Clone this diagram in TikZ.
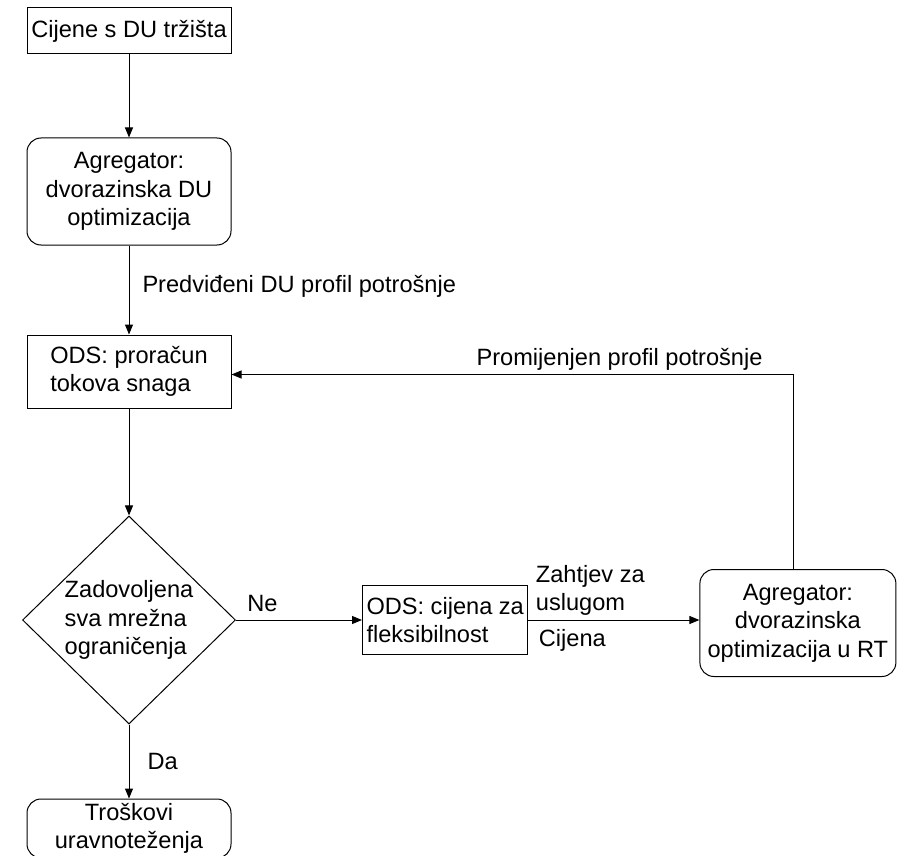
\documentclass[tikz,border=0pt]{standalone}
\usepackage{fontspec}
\setmainfont{Liberation Sans}
\usepackage{tikz}
\usetikzlibrary{arrows.meta,positioning,shapes.geometric}

\begin{document}
\begin{tikzpicture}[
    font=\fontsize{23.6}{28.5}\selectfont,
    line width=1pt,
    box/.style={draw,minimum width=204pt,inner sep=4pt},
    roundbox/.style={box,rounded corners=14pt},
    decision/.style={draw,diamond,aspect=1,inner sep=0pt,
        minimum width=213pt,minimum height=208pt,align=left},
    arrow/.style={-{Triangle[length=10pt,width=8pt]}},
    lbl/.style={inner sep=4pt,align=left}
]
\useasboundingbox (0pt,0pt) rectangle (897pt,-856pt);
\node[box,minimum height=46pt] (prices) at (129pt,-31pt) {Cijene s DU tržišta};
\node[roundbox,minimum height=107pt,align=center,below=83pt of prices] (agg1)
    {Agregator:\\dvorazinska DU\\optimizacija};
\node[box,minimum height=73pt,align=left,below=89pt of agg1] (ods)
    {ODS: proračun\\tokova snaga};
\node[decision,below=107pt of ods] (check)
    {Zadovoljena\\sva mrežna\\ograničenja};
\node[roundbox,minimum height=59pt,align=center,below=74pt of check] (cost)
    {Troškovi\\uravnoteženja};
\node[box,minimum width=164pt,minimum height=69pt,align=left,
    right=126pt of check] (flex) {ODS: cijena za\\fleksibilnost};
\node[roundbox,minimum width=196pt,minimum height=107pt,align=center,
    right=171pt of flex,yshift=-3pt] (agg2)
    {Agregator:\\dvorazinska\\optimizacija u RT};
\draw[arrow] (prices) -- (agg1);
\draw[arrow] (agg1) -- node[lbl,right,xshift=9pt,yshift=4pt]
    {Predviđeni DU profil potrošnje} (ods);
\draw[arrow] (ods) -- (check);
\draw[arrow] (check) -- node[lbl,pos=0.21,above,yshift=4pt] {Ne} (flex);
\draw[arrow] (check) -- node[lbl,right,xshift=14pt] {Da} (cost);
\draw[arrow] (flex.east) -- node[lbl,pos=0,above right,xshift=3pt] {Zahtjev za\\uslugom}
    node[lbl,pos=0,below right,xshift=6pt,yshift=-5pt] {Cijena} (flex.east -| agg2.west);
\draw[arrow] ([xshift=-4pt]agg2.north) |- node[lbl,pos=0.655,above]
    {Promijenjen profil potrošnje} ([yshift=-3pt]ods.east);
\end{tikzpicture}
\end{document}
